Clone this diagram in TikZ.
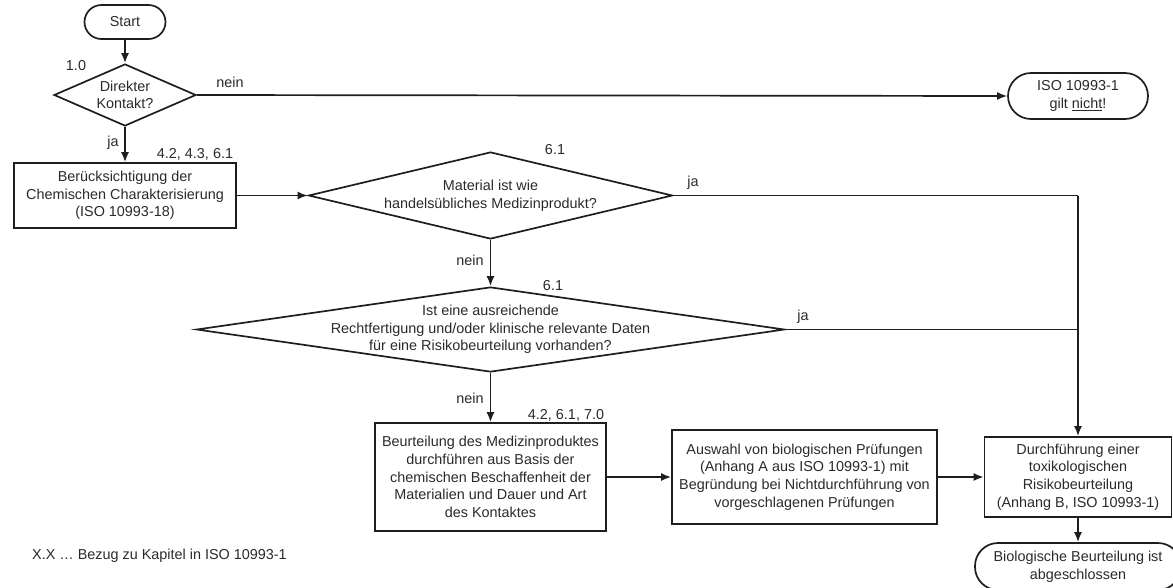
\documentclass[tikz,border=0pt]{standalone}
\usepackage{fontspec}
\setmainfont{Liberation Sans}
\usetikzlibrary{arrows.meta,shapes.geometric}
\definecolor{ink}{HTML}{1E1E1E}
\definecolor{txt}{HTML}{2A2A2A}
\begin{document}
\begin{tikzpicture}[x=1pt,y=-1pt,
  every node/.style={text=txt,font=\fontsize{14.4}{17.6}\selectfont},
  box/.style={draw=ink,line width=1.7pt,rectangle,inner sep=0pt,align=center},
  term/.style={box,rounded corners=#1},
  dia/.style={draw=ink,line width=1.7pt,diamond,inner sep=0pt},
  flow/.style={draw=ink,line width=1.7pt,-{Latex[length=10pt,width=8pt]}},
  conn/.style={draw=ink,line width=1.7pt},
  tag/.style={inner sep=0pt}]
\useasboundingbox (0,0) rectangle (1173,587);

% terminals
\node[term=17pt, minimum width=81pt, minimum height=34pt] (start) at (125,22) {Start};
\node[term=23pt, minimum width=140pt, minimum height=46pt] (iso) at (1078,96) {ISO 10993-1\\gilt \underline{nicht}!};
\node[term=23pt, minimum width=206pt, minimum height=47pt] (end) at (1078,566.5) {Biologische Beurteilung ist\\abgeschlossen};

% decisions
\node[dia, minimum width=142pt, minimum height=62pt] (d1) at (125,95) {};
\node[align=center, inner sep=0pt] (d1t) at (d1) {Direkter\\Kontakt?};
\node[dia, minimum width=364pt, minimum height=87pt] (d2) at (490.5,195.5) {};
\node[align=center, inner sep=0pt] (d2t) at (d2) {Material ist wie\\handelsübliches Medizinprodukt?};
\node[dia, minimum width=588pt, minimum height=85pt] (d3) at (490.5,329.5) {};
\node[align=center, inner sep=0pt] (d3t) at (d3) {Ist eine ausreichende\\Rechtfertigung und/oder klinische relevante Daten\\für eine Risikobeurteilung vorhanden?};

% process boxes
\node[box, minimum width=222pt, minimum height=65pt] (b1) at (125,195.5) {Berücksichtigung der\\Chemischen Charakterisierung\\(ISO 10993-18)};
\node[box, minimum width=231pt, minimum height=108pt] (b3) at (490.5,477) {Beurteilung des Medizinproduktes\\durchführen aus Basis der\\chemischen Beschaffenheit der\\Materialien und Dauer und Art\\des Kontaktes};
\node[box, minimum width=265pt, minimum height=94pt] (b4) at (804.5,477) {Auswahl von biologischen Prüfungen\\(Anhang A aus ISO 10993-1) mit\\Begründung bei Nichtdurchführung von\\vorgeschlagenen Prüfungen};
\node[box, minimum width=187pt, minimum height=80pt] (b5) at (1078,477) {Durchführung einer\\toxikologischen\\Risikobeurteilung\\(Anhang B, ISO 10993-1)};

% chapter references and branch labels
\node[tag] (r1) at (76,66) {1.0};
\node[tag] (r2) at (195,154) {4.2, 4.3, 6.1};
\node[tag] (r3) at (555,150) {6.1};
\node[tag] (r4) at (553,286) {6.1};
\node[tag] (r5) at (566,415) {4.2, 6.1, 7.0};
\node[tag] (n1) at (230,82) {nein};
\node[tag] (y1) at (113,143) {ja};
\node[tag] (y2) at (693,183) {ja};
\node[tag] (n2) at (470,260) {nein};
\node[tag] (y3) at (803,317) {ja};
\node[tag] (n3) at (470,398) {nein};
\node[tag, anchor=west] (legend) at (32,556) {X.X … Bezug zu Kapitel in ISO 10993-1};

% connectors
\coordinate (j1) at (1078,195.5);
\draw[flow] (start) -- (d1);
\draw[flow] (d1.east) -- (iso.west);
\draw[flow] (d1) -- (b1);
\draw[flow] (b1) -- (d2.west);
\draw[flow] (d2) -- (d3);
\draw[conn] (d2.east) -- (j1);
\draw[flow] (j1) -- (b5);
\draw[conn] (d3.east) -- (d3.east -| j1);
\draw[flow] (d3) -- (b3);
\draw[flow] (b3) -- (b4);
\draw[flow] (b4) -- (b5);
\draw[flow] (b5) -- (end);
\end{tikzpicture}
\end{document}
